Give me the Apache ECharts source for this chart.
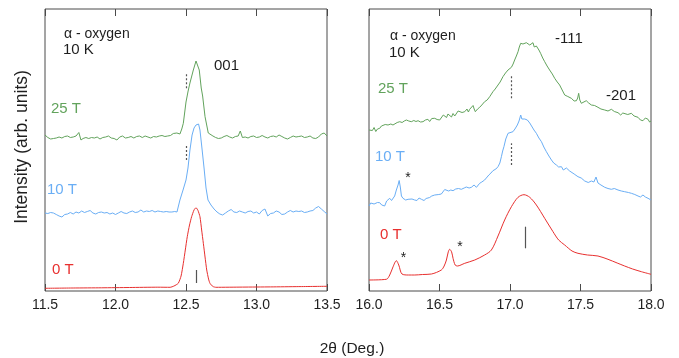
<!DOCTYPE html>
<html>
<head>
<meta charset="utf-8">
<script src="https://cdn.jsdelivr.net/npm/echarts@6/dist/echarts.min.js"></script>
<style>
html,body{margin:0;padding:0;background:#fff;}
#chart{width:679px;height:358px;}
</style>
</head>
<body>
<div id="chart"></div>
<script>
// ---- axis ranges & ticks ----
const leftRange = [11.5, 13.5];
const rightRange = [16.0, 18.0];
const tickStep = 0.5;
const intensityRange = [0, 282];

// ---- left panel (001 reflection) : [2theta, intensity arb.] ----
const left25T = [[11.50,156],[11.52,153.5],[11.54,152],[11.56,152.5],[11.58,153],[11.60,154],[11.62,153],[11.64,154.5],[11.66,155],[11.68,153.5],[11.70,154],[11.72,155],[11.74,158.5],[11.755,151],[11.77,152.5],[11.79,153.5],[11.81,152.5],[11.83,153.5],[11.85,153],[11.87,154],[11.89,152],[11.91,153.5],[11.93,154],[11.95,155],[11.97,153],[11.99,152.5],[12.01,151],[12.03,154],[12.05,155],[12.07,153],[12.09,153.5],[12.11,154.5],[12.13,153],[12.15,154.5],[12.17,155],[12.19,153.5],[12.21,155],[12.23,154],[12.25,153],[12.27,154.5],[12.29,154],[12.31,155],[12.33,155.5],[12.35,154.5],[12.37,155],[12.39,155.5],[12.41,157.5],[12.42,155.5],[12.435,158],[12.457,157],[12.47,162],[12.481,167.7],[12.5,189],[12.515,200],[12.528,208],[12.552,221],[12.571,230],[12.594,221],[12.608,203],[12.618,195],[12.635,174.3],[12.658,158],[12.691,155],[12.71,153.5],[12.73,152.5],[12.75,153],[12.77,154.5],[12.79,155.5],[12.81,154],[12.83,153],[12.85,154.5],[12.87,155],[12.885,160],[12.90,153.5],[12.92,154],[12.94,153],[12.96,154.5],[12.98,155],[13.00,153.5],[13.02,154],[13.04,155.5],[13.06,154],[13.08,153],[13.10,154.5],[13.12,155],[13.14,154],[13.16,156],[13.18,154.5],[13.20,153],[13.22,152],[13.24,153.5],[13.26,155],[13.28,154],[13.30,154.5],[13.32,155],[13.34,153.5],[13.36,154],[13.38,155],[13.40,153],[13.42,152.5],[13.44,154],[13.46,157],[13.48,158],[13.50,155]];
const left10T = [[11.50,78],[11.52,77.5],[11.54,78.5],[11.56,78],[11.58,76.5],[11.60,75],[11.62,74],[11.64,76.5],[11.66,77],[11.68,78.5],[11.70,77],[11.72,79],[11.74,78],[11.76,80],[11.78,78.5],[11.80,79.5],[11.82,80.5],[11.84,78],[11.86,77],[11.88,78.5],[11.90,79],[11.92,78],[11.94,78.5],[11.96,77],[11.98,78],[12.00,76.5],[12.02,78],[12.04,79.5],[12.06,78],[12.08,77.5],[12.10,79],[12.12,80],[12.14,78.5],[12.16,79],[12.18,81],[12.20,79],[12.22,80],[12.24,79.5],[12.26,80.5],[12.28,79],[12.30,80],[12.32,79.5],[12.34,79],[12.36,79.5],[12.38,79],[12.40,79],[12.42,79.5],[12.436,79],[12.457,91],[12.479,101],[12.5,111],[12.514,123],[12.528,141],[12.543,156],[12.557,163],[12.571,166],[12.589,167],[12.599,161],[12.613,143],[12.628,123],[12.642,103],[12.656,91],[12.677,86],[12.699,82],[12.72,79],[12.74,77],[12.76,76],[12.78,78],[12.80,80],[12.82,81.5],[12.84,79],[12.86,78.5],[12.88,80],[12.90,79],[12.92,78],[12.94,79.5],[12.96,80],[12.98,78],[13.00,79],[13.02,77],[13.04,80.5],[13.06,82],[13.08,75],[13.10,77.5],[13.12,78],[13.14,80],[13.16,79],[13.18,76.5],[13.20,77],[13.22,79],[13.24,80.5],[13.26,79],[13.28,80],[13.30,79.5],[13.32,80],[13.34,78.5],[13.36,79],[13.38,80],[13.40,80.5],[13.42,83],[13.44,84.5],[13.46,82],[13.48,79.5],[13.50,77]];
const left0T = [[11.5,2.7],[11.7,3],[11.9,3.2],[12.1,3.5],[12.3,3.8],[12.387,3.7],[12.415,5],[12.445,7.7],[12.465,15],[12.481,27.7],[12.495,41],[12.509,54.3],[12.525,66],[12.54,74.3],[12.557,81],[12.571,83.3],[12.585,80.5],[12.599,74.3],[12.611,61],[12.623,47.7],[12.635,34],[12.647,21],[12.66,12],[12.67,7.7],[12.691,4.5],[12.713,3.7],[12.9,3.9],[13.1,4.1],[13.3,4.4],[13.5,4.7]];

// ---- right panel (-111 / -201 reflections) ----
const right25T = [[16.00,161],[16.012,163],[16.024,160.5],[16.036,163.5],[16.048,159.5],[16.06,162],[16.076,162.7],[16.088,165],[16.1,164.3],[16.115,166.5],[16.135,166],[16.155,167],[16.17,166],[16.182,167.7],[16.2,168.5],[16.218,169.3],[16.235,168.5],[16.25,170],[16.265,171],[16.282,170],[16.3,169.3],[16.318,170.5],[16.333,169.5],[16.348,170.3],[16.365,169],[16.383,169.3],[16.4,171],[16.418,171.7],[16.43,169.5],[16.445,172.5],[16.466,172.7],[16.483,171.5],[16.501,171],[16.515,173],[16.527,176],[16.537,175],[16.55,173.5],[16.56,177],[16.572,176],[16.585,174],[16.596,177.5],[16.608,175],[16.62,177],[16.632,180],[16.643,178.3],[16.66,178.5],[16.679,179.3],[16.695,182],[16.705,179],[16.714,181.7],[16.728,183],[16.738,185.5],[16.746,182],[16.754,179.3],[16.77,182],[16.785,183.7],[16.80,186],[16.82,189.3],[16.838,191],[16.856,194.3],[16.868,196],[16.879,199.3],[16.895,202],[16.915,206],[16.93,209],[16.95,214.3],[16.968,218],[16.986,221],[17.0,223],[17.01,223.7],[17.022,227],[17.033,231],[17.045,235],[17.057,239.3],[17.066,244],[17.076,247.7],[17.084,246],[17.092,247],[17.105,245.5],[17.116,248.3],[17.128,247],[17.14,246],[17.152,247],[17.163,248.3],[17.172,244],[17.179,242.7],[17.187,245],[17.194,245],[17.205,241],[17.217,237.7],[17.232,233],[17.246,229.3],[17.263,225],[17.281,221],[17.3,217],[17.317,212.7],[17.335,209],[17.352,206],[17.37,201],[17.388,196],[17.41,194.5],[17.435,192.7],[17.455,190],[17.471,190.3],[17.48,193],[17.487,197.7],[17.495,191],[17.506,187.7],[17.52,189],[17.541,190.3],[17.558,188],[17.577,186],[17.6,185.5],[17.624,183.7],[17.645,182],[17.655,184],[17.672,181],[17.695,180],[17.719,181.7],[17.74,179.5],[17.766,178.3],[17.785,176],[17.8,178],[17.813,177.7],[17.835,176.5],[17.861,177.7],[17.88,175],[17.908,173.7],[17.925,171],[17.943,170.3],[17.96,173],[17.979,171.7],[17.99,169],[18.0,170]];
const right10T = [[16.0,85],[16.012,88],[16.024,89.5],[16.036,87],[16.048,86.5],[16.06,88.5],[16.076,88.3],[16.09,86],[16.1,84.5],[16.111,85],[16.125,90],[16.135,88],[16.147,92.7],[16.16,90.5],[16.17,91],[16.182,95],[16.194,101],[16.206,106],[16.214,110.5],[16.222,104],[16.23,95],[16.241,92.7],[16.26,91],[16.277,91.7],[16.29,90],[16.305,92],[16.324,91],[16.34,90.5],[16.355,93],[16.372,91.7],[16.39,90.5],[16.405,92.5],[16.418,91],[16.43,93.5],[16.445,95],[16.466,96],[16.48,95],[16.495,96.5],[16.513,97],[16.525,98],[16.537,101.5],[16.549,101.7],[16.565,100],[16.58,101],[16.596,100.3],[16.615,102],[16.635,102.5],[16.655,101.7],[16.675,103],[16.69,104],[16.71,103],[16.726,103.7],[16.745,106],[16.762,103.7],[16.775,105],[16.785,107.7],[16.80,109],[16.82,111],[16.833,112.7],[16.85,116],[16.865,118],[16.879,120.3],[16.9,122],[16.915,124.3],[16.928,128],[16.939,134.3],[16.948,140],[16.957,144.3],[16.97,152],[16.986,157.7],[17.0,158],[17.021,159.3],[17.035,162],[17.052,166],[17.064,170],[17.076,176],[17.084,172],[17.092,170.3],[17.105,172],[17.123,171],[17.14,168],[17.152,166],[17.17,161],[17.187,157.7],[17.205,153],[17.223,149.3],[17.24,144],[17.258,139.3],[17.276,135],[17.294,131],[17.31,128],[17.329,126],[17.345,124],[17.365,124.3],[17.378,121],[17.388,121],[17.4,123],[17.411,124.3],[17.423,120],[17.435,119.3],[17.455,117],[17.482,114.3],[17.505,113],[17.53,110],[17.555,108.5],[17.577,110],[17.595,109],[17.61,114],[17.624,108],[17.645,106],[17.672,103.7],[17.695,102.5],[17.719,101.7],[17.74,102.5],[17.766,101],[17.79,100],[17.813,99.3],[17.84,98.5],[17.861,97.7],[17.885,96.5],[17.908,95],[17.925,94],[17.943,96],[17.96,94],[17.979,92.7],[18.0,91]];
const right0T = [[16.0,11],[16.123,11.7],[16.147,16],[16.17,24],[16.194,30.3],[16.211,26],[16.234,17],[16.28,16],[16.324,16],[16.38,16.5],[16.443,17],[16.513,21],[16.533,25],[16.549,31],[16.562,39],[16.572,41.7],[16.586,39],[16.596,32.7],[16.611,26],[16.627,25],[16.679,27.7],[16.75,31],[16.82,36],[16.868,41],[16.915,55],[16.962,71],[17.01,84.3],[17.057,93.7],[17.099,96.3],[17.14,93.7],[17.187,86],[17.246,72.7],[17.305,59.3],[17.345,51],[17.388,46],[17.44,40],[17.482,37.7],[17.55,36],[17.624,35],[17.695,31.7],[17.76,28],[17.813,25],[17.87,22],[17.932,19.3],[18.0,16.7]];

// ---- peak position markers: [2theta, fromIntensity, toIntensity] ----
const leftMarkers = { solid: [12.571, 8, 21], dashed25T: [12.505, 202.7, 217.7], dashed10T: [12.505, 131, 146] };
const rightMarkers = { solid: [17.109, 42.7, 64.3], dashed25T: [17.01, 192.7, 215], dashed10T: [17.01, 126, 147.7] };

const fieldLabels = ['25 T', '10 T', '0 T'];
const colors = { g: '#62a35c', b: '#6aaef5', r: '#e8302f', axis: '#4a4a4a', text: '#1e1e1e', mark: '#555' };

function seg(m, dashed) {
  return {
    silent: true, symbol: ['none','none'], label: {show:false},
    lineStyle: { color: colors.mark, width: 1.2, type: dashed ? [2,2] : 'solid' },
    data: [[{coord:[m[0], m[1]]}, {coord:[m[0], m[2]]}]]
  };
}
function line(data, color, xi, yi, markLine, smooth) {
  return { type:'line', data, xAxisIndex: xi, yAxisIndex: yi, showSymbol:false, symbol:'none',
    smooth: smooth || false, lineStyle:{color, width:1}, itemStyle:{color}, markLine, animation:false, silent:true };
}
function xAxis(gi, range, top) {
  return { type:'value', gridIndex: gi, min: range[0], max: range[1], interval: tickStep,
    position: top ? 'top' : 'bottom',
    axisLine:{show:false}, splitLine:{show:false},
    axisTick:{show:true, inside:true, length:7, lineStyle:{color:colors.axis, width:1}},
    axisLabel:{show:!top, margin:7, fontSize:14, fontFamily:'Liberation Sans, Arial', color:colors.text,
      formatter: v => v.toFixed(1)} };
}
function yAxis(gi) {
  return { type:'value', gridIndex: gi, min: intensityRange[0], max: intensityRange[1], show:false };
}
function txt(t, x, y, color, size, align) {
  return { type:'text', x, y, silent:true, style:{ text:t, fill:color, font: (size||15)+'px "Liberation Sans", Arial, sans-serif',
    align: align||'left', verticalAlign:'middle' } };
}

const chart = echarts.init(document.getElementById('chart'), null, {renderer:'canvas'});
chart.setOption({
  animation:false,
  backgroundColor:'#fff',
  grid:[
    {left:45, top:9, width:282, height:282, show:true, borderColor:colors.axis, borderWidth:1, backgroundColor:'transparent'},
    {left:369, top:9, width:282, height:282, show:true, borderColor:colors.axis, borderWidth:1, backgroundColor:'transparent'}
  ],
  xAxis:[xAxis(0,leftRange,false), xAxis(0,leftRange,true), xAxis(1,rightRange,false), xAxis(1,rightRange,true)],
  yAxis:[yAxis(0), yAxis(1)],
  series:[
    line(left25T, colors.g, 0, 0, seg(leftMarkers.dashed25T, true)),
    line(left10T, colors.b, 0, 0, seg(leftMarkers.dashed10T, true)),
    line(left0T, colors.r, 0, 0, seg(leftMarkers.solid, false), 0.2),
    line(right25T, colors.g, 2, 1, seg(rightMarkers.dashed25T, true)),
    line(right10T, colors.b, 2, 1, seg(rightMarkers.dashed10T, true)),
    line(right0T, colors.r, 2, 1, seg(rightMarkers.solid, false), 0.3)
  ],
  graphic:[
    txt('α - oxygen', 64, 34, colors.text, 14),
    txt('10 K', 63, 50, colors.text, 15),
    txt('001', 214, 66, colors.text, 15),
    txt(fieldLabels[0], 51, 109, colors.g, 15),
    txt(fieldLabels[1], 47, 190, colors.b, 15),
    txt(fieldLabels[2], 52, 270, colors.r, 15),
    txt('α - oxygen', 390, 36.5, colors.text, 14),
    txt('10 K', 389, 53, colors.text, 15),
    txt('-111', 555, 38.5, colors.text, 15),
    txt('-201', 606, 96, colors.text, 15),
    txt(fieldLabels[0], 378, 89, colors.g, 15),
    txt(fieldLabels[1], 375, 157, colors.b, 15),
    txt(fieldLabels[2], 380, 235, colors.r, 15),
    txt('*', 408, 178, colors.text, 14, 'center'),
    txt('*', 403.5, 258, colors.text, 14, 'center'),
    txt('*', 460, 247, colors.text, 14, 'center'),
    txt('2θ (Deg.)', 352, 349, colors.text, 15.5, 'center'),
    { type:'text', x:22, y:147, rotation: Math.PI/2, silent:true,
      style:{ text:'Intensity (arb. units)', fill:colors.text, font:'17.5px "Liberation Sans", Arial, sans-serif', align:'center', verticalAlign:'middle' } }
  ]
});
</script>
</body>
</html>
